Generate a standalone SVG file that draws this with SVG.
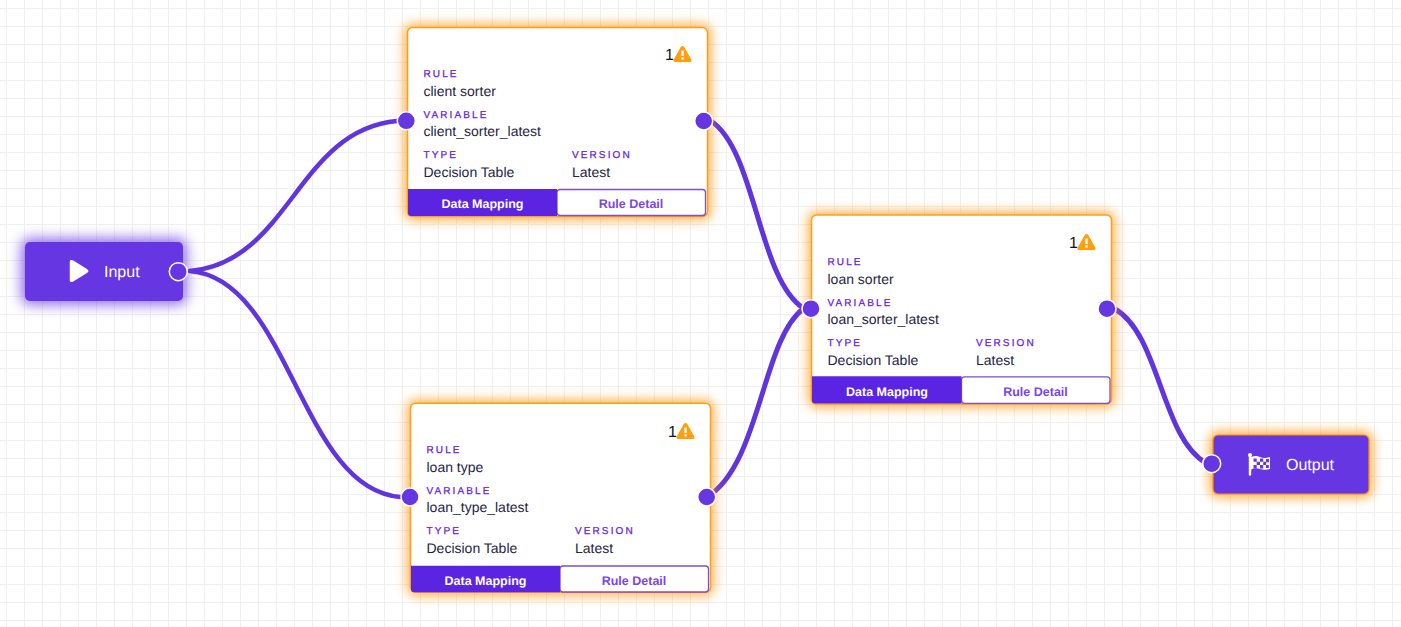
<svg xmlns="http://www.w3.org/2000/svg" width="1401" height="627" viewBox="0 0 1401 627">
<defs>
<style>
text{font-family:"Liberation Sans",Arial,sans-serif;text-rendering:geometricPrecision}
.lab{font-size:10px;letter-spacing:2.1px;fill:#6420e6;stroke:#6420e6;stroke-width:.25}
.val{font-size:14px;fill:#25253f}
.card{fill:#fff;stroke:#ff9f1c;stroke-width:1.5}
.glow{fill:#ff9000;stroke:#ff9000;stroke-width:7;opacity:.7}
.btnl{fill:#5b24e2}
.btnr{fill:#fff;stroke:#7a4fd0;stroke-width:1.3}
.tl{font-size:12.5px;font-weight:700;fill:#fff;text-anchor:middle}
.tr{font-size:12.5px;font-weight:700;fill:#7a45ea;text-anchor:middle}
.port{fill:#6536e2;stroke:#fff;stroke-width:1.5}
.wire{fill:none;stroke:#6034de;stroke-width:4.500;stroke-linecap:round}
.thick{stroke-width:5}
.num{font-size:16px;fill:#111}
.wi{fill:#ff9f0f;stroke:#ff9f0f;stroke-width:1.500;stroke-linejoin:round}
.io{fill:#6536e2}
.iot{font-size:16px;fill:#fff}
</style>
<pattern id="grid" width="18" height="18" patternUnits="userSpaceOnUse" x="6" y="8">
<path d="M0.5 0V18M0 0.5H18" fill="none" stroke="#f0f0f0" stroke-width="1"/>
</pattern>
<filter id="glowO" x="-20%" y="-30%" width="140%" height="160%"><feGaussianBlur stdDeviation="6"/></filter>
<filter id="glowP" x="-25%" y="-60%" width="150%" height="220%"><feGaussianBlur stdDeviation="6.500"/></filter>
<path id="warn" d="M273.800 19.500Q275 17.900 276.200 19.500L283 31.500Q284 33.300 282 33.300H268Q266 33.300 267 31.500Z"/>
</defs>
<rect width="1401" height="627" fill="#fff"/>
<rect width="1401" height="627" fill="url(#grid)"/>

<g id="connectors">
<path class="wire" d="M190 271C290 262 297 130 397 121"/>
<path class="wire" d="M190 271C290 279 300 489 400 497"/>
<path class="wire thick" d="M711 121C756 151 758 278 803 308"/>
<path class="wire thick" d="M707 497C760 465 762 340 803 309"/>
<path class="wire thick" d="M1115 309C1160 335 1161 437 1206 463"/>
</g>

<g id="node-input">
<rect x="25" y="242" width="158" height="59" rx="5" fill="#6536e2" stroke="#6536e2" stroke-width="8" opacity=".7" filter="url(#glowP)"/>
<rect class="io" x="25" y="242" width="158" height="59" rx="5"/>
<path d="M70.500 262Q70.500 260 72.500 261L87 270Q88.500 271 87 272L72.500 281Q70.500 282 70.500 280Z" fill="#fff" stroke="#fff" stroke-width="1.500" stroke-linejoin="round"/>
<text class="iot" x="104" y="277">Input</text>
<circle class="port" cx="178.300" cy="271.700" r="9"/>
</g>

<g id="node-client-sorter" transform="translate(407 28)">
<rect class="glow" x=".5" y="-.5" width="300" height="189" rx="5" filter="url(#glowO)"/>
<rect class="card" x=".5" y="-.5" width="300" height="189" rx="5"/>
<text class="num" x="258" y="32">1</text>
<use href="#warn" x=".5" class="wi"/>
<rect x="274.400" y="22.500" width="2.300" height="5.500" fill="#fff"/><rect x="274.400" y="29.300" width="2.300" height="2.200" fill="#fff"/>
<text class="lab" x="16.500" y="49">RULE</text>
<text class="val" x="16.500" y="68">client sorter</text>
<text class="lab" x="16.500" y="90">VARIABLE</text>
<text class="val" x="16.500" y="108">client_sorter_latest</text>
<text class="lab" x="16.500" y="130">TYPE</text>
<text class="val" x="16.500" y="149">Decision Table</text>
<text class="lab" x="165" y="130">VERSION</text>
<text class="val" x="165" y="149">Latest</text>
<rect class="btnr" x="150" y="161.500" width="148.500" height="26" rx="3"/>
<path class="btnl" d="M1 161H150V188H4Q1 188 1 185Z"/>
<text class="tl" x="75.500" y="180">Data Mapping</text>
<text class="tr" x="224" y="180">Rule Detail</text>
<circle class="port" cx="-.7" cy="92.800" r="9"/>
<circle class="port" cx="296.700" cy="93" r="9"/>
</g>

<g id="node-loan-type" transform="translate(410 404)">
<rect class="glow" x=".5" y="-.8" width="300" height="189" rx="5" filter="url(#glowO)"/>
<rect class="card" x=".5" y="-.8" width="300" height="189" rx="5"/>
<text class="num" x="258" y="33">1</text>
<g transform="translate(.5 1)">
<use href="#warn" class="wi"/>
<rect x="273.900" y="22.500" width="2.300" height="5.500" fill="#fff"/><rect x="273.900" y="29.300" width="2.300" height="2.200" fill="#fff"/>
</g>
<text class="lab" x="16.500" y="49">RULE</text>
<text class="val" x="16.500" y="68">loan type</text>
<text class="lab" x="16.500" y="90">VARIABLE</text>
<text class="val" x="16.500" y="108">loan_type_latest</text>
<text class="lab" x="16.500" y="130">TYPE</text>
<text class="val" x="16.500" y="149">Decision Table</text>
<text class="lab" x="165" y="130">VERSION</text>
<text class="val" x="165" y="149">Latest</text>
<rect class="btnr" x="150" y="162" width="148.500" height="26" rx="3"/>
<path class="btnl" d="M1 161.700H150V188.300H4Q1 188.300 1 185.300Z"/>
<text class="tl" x="75.500" y="180.700">Data Mapping</text>
<text class="tr" x="224" y="180.700">Rule Detail</text>
<circle class="port" cx="0" cy="93" r="9"/>
<circle class="port" cx="296.700" cy="93" r="9"/>
</g>

<g id="node-loan-sorter" transform="translate(811 216)">
<rect class="glow" x=".5" y="-1" width="300" height="189" rx="5" filter="url(#glowO)"/>
<rect class="card" x=".5" y="-1" width="300" height="189" rx="5"/>
<text class="num" x="258" y="32.300">1</text>
<g transform="translate(.5 0)">
<use href="#warn" class="wi"/>
<rect x="273.900" y="22.500" width="2.300" height="5.500" fill="#fff"/><rect x="273.900" y="29.300" width="2.300" height="2.200" fill="#fff"/>
</g>
<text class="lab" x="16.500" y="49">RULE</text>
<text class="val" x="16.500" y="68">loan sorter</text>
<text class="lab" x="16.500" y="90">VARIABLE</text>
<text class="val" x="16.500" y="108">loan_sorter_latest</text>
<text class="lab" x="16.500" y="130">TYPE</text>
<text class="val" x="16.500" y="149">Decision Table</text>
<text class="lab" x="165" y="130">VERSION</text>
<text class="val" x="165" y="149">Latest</text>
<rect class="btnr" x="150.500" y="160.800" width="148.500" height="26.500" rx="3"/>
<path class="btnl" d="M1 160.300H150.500V187.500H4Q1 187.500 1 184.500Z"/>
<text class="tl" x="76" y="179.500">Data Mapping</text>
<text class="tr" x="224.500" y="179.500">Rule Detail</text>
<circle class="port" cx="0" cy="92.700" r="9"/>
<circle class="port" cx="296" cy="92.700" r="9"/>
</g>

<g id="node-output">
<rect x="1213" y="435" width="156" height="59" rx="5" fill="#ff9000" stroke="#ff9000" stroke-width="7" opacity=".75" filter="url(#glowO)"/>
<rect class="io" x="1213" y="435" width="156" height="59" rx="5" stroke="#ff9400" stroke-width="1.200"/>
<path d="M1250 455.500V474.500" stroke="#fff" stroke-width="2.400" stroke-linecap="round"/>
<circle cx="1250" cy="455" r="2" fill="#fff"/>
<path d="M1251 457Q1256 455 1260 457T1270 457L1270 469Q1265 470.500 1260 469T1251 469.500Z" fill="#fff"/>
<path d="M1253.500 458.500h3.200v3.300h-3.200zM1260 458.500h3.200v3.300h-3.200zM1266 459h3v3.300h-3zM1256.700 461.800h3.300v3.300h-3.300zM1263.200 461.800h3v3.300h-3zM1253.500 465.100h3.200v3.300h-3.200zM1260 465.100h3.200v3.300h-3.200zM1266 465.100h2.800v3h-2.800z" fill="#6536e2"/>
<text class="iot" x="1286" y="470">Output</text>
<circle class="port" cx="1211.700" cy="463.700" r="9"/>
</g>
</svg>
